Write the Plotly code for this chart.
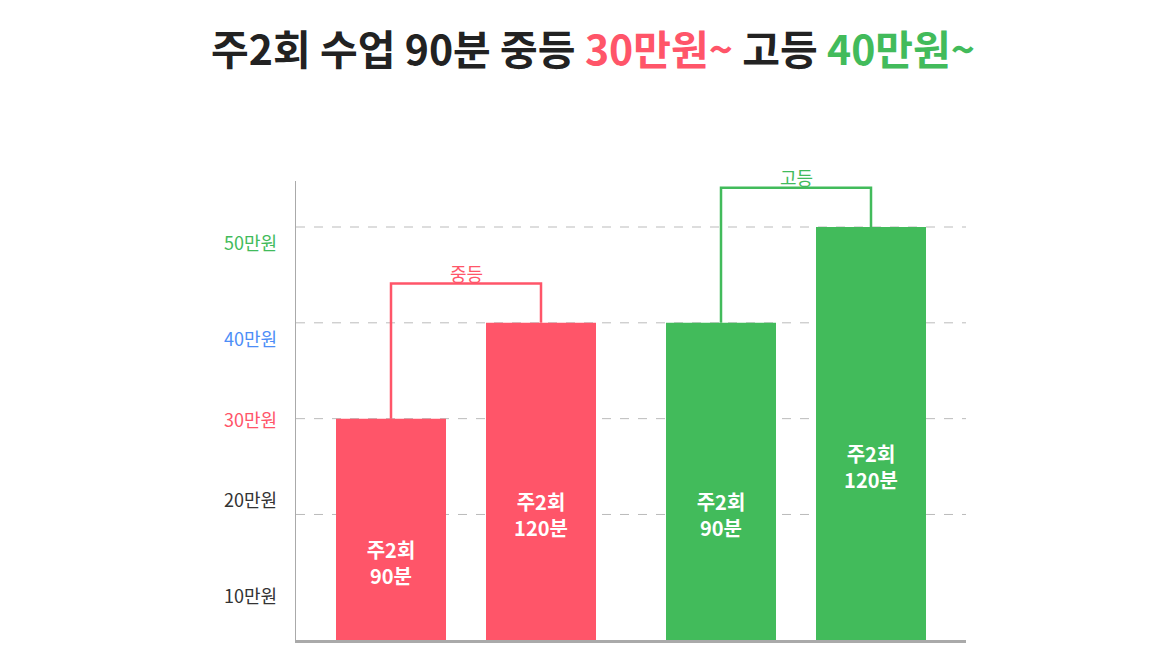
import plotly.graph_objects as go

# data
x_pos = [390, 540, 720, 870]
values = [30, 40, 40, 50]
bar_labels = ["<b>주2회<br>90분</b>", "<b>주2회<br>120분</b>", "<b>주2회<br>90분</b>", "<b>주2회<br>120분</b>"]
tick_vals = [10, 20, 30, 40, 50]
tick_text = ["10만원", "20만원", "30만원", "40만원", "50만원"]

RED = "#ff5569"
GREEN = "#42bb5b"
BLUE = "#4d8ef7"
FONT = "Noto Sans CJK KR"
bar_colors = [RED, RED, GREEN, GREEN]
tick_colors = ["#333333", "#333333", RED, BLUE, GREEN]

fig = go.Figure()
fig.add_trace(go.Bar(
    x=x_pos, y=values, width=110, marker=dict(color=bar_colors, line=dict(width=0)),
    text=bar_labels, textposition="inside", insidetextanchor="middle",
    textfont=dict(color="white", size=20, family=FONT), hoverinfo="skip",
))

ymin, ymax = 6.9, 54.8
for v in tick_vals[1:]:
    fig.add_shape(type="line", x0=295, x1=965, y0=v, y1=v, layer="below",
                  line=dict(color="#bbbbbb", width=1, dash="dash"))
for v, t, c in zip(tick_vals, tick_text, tick_colors):
    fig.add_annotation(x=-0.025, xref="paper", y=(max(v, 7.7) - ymin) / (ymax - ymin), yref="paper",
                       text=t, showarrow=False, xanchor="right",
                       font=dict(size=18, color=c, family=FONT))

# brackets
brackets = [(0, 1, 44.1, "중등", RED), (2, 3, 54.1, "고등", GREEN)]
for a, b, top, label, col in brackets:
    fig.add_shape(type="path",
                  path=f"M {x_pos[a]},{values[a]} L {x_pos[a]},{top} L {x_pos[b]},{top} L {x_pos[b]},{values[b]}",
                  line=dict(color=col, width=2.5))
    fig.add_annotation(x=(x_pos[a] + x_pos[b]) / 2, y=(top + 2.7 - ymin) / (ymax - ymin), yref="paper",
                       text=label, showarrow=False, font=dict(size=18, color=col, family=FONT))

title = ("주2회 수업 90분 중등 <span style='color:%s'>30만원~</span> 고등 "
         "<span style='color:%s'>40만원~</span>" % (RED, GREEN))
fig.update_layout(
    width=1170, height=660, plot_bgcolor="white", paper_bgcolor="white",
    margin=dict(l=288, r=212, t=173, b=28), showlegend=False,
    title=dict(text="<b>" + title + "</b>", x=0.5, xanchor="center", y=0.935, yanchor="middle",
               font=dict(size=41, color="#222222", family=FONT)),
    xaxis=dict(range=[295, 965], showticklabels=False, showgrid=False, zeroline=False,
               showline=True, linecolor="#aaaaaa", linewidth=3, fixedrange=True),
    yaxis=dict(range=[ymin, ymax], showticklabels=False, showgrid=False, zeroline=False,
               showline=True, linecolor="#aaaaaa", linewidth=1),
)
fig.write_html("out.html")
